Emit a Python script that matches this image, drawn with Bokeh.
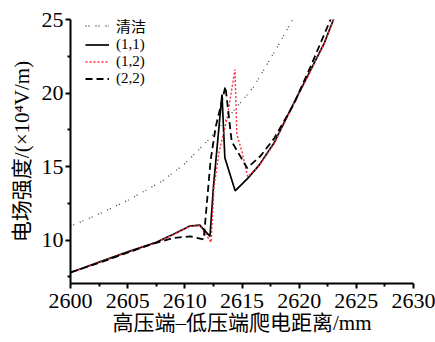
from bokeh.plotting import figure
from bokeh.models import Range1d, FixedTicker, Legend, LegendItem
from bokeh.embed import file_html
from bokeh.resources import INLINE

# clean surface
x_clean = [2600, 2602, 2605, 2608, 2610, 2612, 2614, 2616, 2618, 2619.5, 2620.5]
y_clean = [10.95, 11.6, 12.7, 14.0, 15.2, 16.75, 18.55, 20.4, 23.0, 25.1, 26.8]

# (1,1)
x11 = [2600, 2602.5, 2605, 2607.5, 2609, 2610.4, 2611.3, 2612.2, 2612.5, 2613.25, 2613.5,
       2614.4, 2615.5, 2616.5, 2617.8, 2619.2, 2620.7, 2622.2, 2623.2]
y11 = [7.8, 8.5, 9.2, 9.85, 10.4, 10.95, 11.02, 10.25, 13.6, 19.9, 15.6,
       13.35, 14.2, 15.1, 16.6, 18.8, 21.1, 23.4, 25.4]

# (1,2)
x12 = [2600, 2602.5, 2605, 2607.5, 2609, 2610.4, 2611.3, 2612.3, 2612.55, 2613.0, 2613.7,
       2614.38, 2614.55, 2615.0, 2615.5, 2616.5, 2617.8, 2619.2, 2620.7, 2622.2, 2623.2]
y12 = [7.78, 8.48, 9.18, 9.83, 10.38, 10.93, 11.0, 9.85, 13.6, 16.0, 18.3,
       21.6, 17.2, 16.0, 14.3, 15.05, 16.55, 18.75, 21.05, 23.35, 25.35]

# (2,2)
x22 = [2600, 2602.5, 2605, 2607, 2609, 2610.5, 2611.65, 2612.25, 2612.7, 2613.55, 2614.1,
       2615.45, 2616.6, 2617.8, 2619.5, 2621.0, 2622.8]
y22 = [7.8, 8.45, 9.15, 9.7, 10.15, 10.25, 10.05, 15.4, 17.7, 20.45, 16.7,
       14.9, 15.7, 16.9, 19.2, 21.8, 25.1]

x_ticks = [2600, 2605, 2610, 2615, 2620, 2625, 2630]
x_minor = [2602.5, 2607.5, 2612.5, 2617.5, 2622.5, 2627.5]
y_ticks = [10, 15, 20, 25]
y_minor = [7.5, 12.5, 17.5, 22.5]

labels = ["清洁", "(1,1)", "(1,2)", "(2,2)"]

SERIF = "'Liberation Serif', 'Noto Sans CJK SC'"

p = figure(width=435, height=342, output_backend="svg", toolbar_location=None,
           x_range=Range1d(2600, 2630), y_range=Range1d(7.05, 25),
           min_border_left=70, min_border_right=22, min_border_top=19, min_border_bottom=59)
p.outline_line_color = None
p.xgrid.visible = False
p.ygrid.visible = False
p.background_fill_color = "white"
p.border_fill_color = "white"

r0 = p.line(x_clean, y_clean, line_color="#444444", line_width=1.3, line_dash="1 2 1 6")
r1 = p.line(x11, y11, line_color="black", line_width=1.7)
r2 = p.line(x12, y12, line_color="#ff2a3a", line_width=1.4, line_dash="2 2")
r3 = p.line(x22, y22, line_color="black", line_width=1.8, line_dash="7 4")

for ax, tk, mn in ((p.xaxis[0], x_ticks, x_minor), (p.yaxis[0], y_ticks, y_minor)):
    ax.ticker = FixedTicker(ticks=tk, minor_ticks=mn)
    ax.axis_line_width = 2
    ax.axis_line_color = "black"
    ax.major_tick_line_width = 2
    ax.minor_tick_line_width = 2
    ax.major_tick_in = 0
    ax.major_tick_out = 5
    ax.minor_tick_in = 0
    ax.minor_tick_out = 3
    ax.major_label_text_font = SERIF
    ax.major_label_text_font_size = "22px"
    ax.major_label_text_color = "black"
    ax.axis_label_text_font = SERIF
    ax.axis_label_text_font_size = "21px"
    ax.axis_label_text_font_style = "normal"
    ax.axis_label_text_color = "black"

p.xaxis[0].axis_label = "高压端–低压端爬电距离/mm"
p.yaxis[0].axis_label = "电场强度/(×10⁴V/m)"
p.xaxis[0].major_label_standoff = 5
p.yaxis[0].major_label_standoff = 2
p.xaxis[0].axis_label_standoff = 0
p.yaxis[0].axis_label_standoff = 5

legend = Legend(items=[LegendItem(label=l, renderers=[r]) for l, r in zip(labels, [r0, r1, r2, r3])],
                location=(15, 196))
legend.background_fill_alpha = 0
legend.border_line_color = None
legend.label_text_font = SERIF
legend.label_text_font_size = "15px"
legend.label_text_color = "black"
legend.glyph_width = 24
legend.glyph_height = 15
legend.label_height = 15
legend.label_standoff = 7
legend.spacing = 0
legend.padding = 2
legend.margin = 0
p.add_layout(legend, "center")

open("out.html", "w").write(file_html(p, INLINE))
